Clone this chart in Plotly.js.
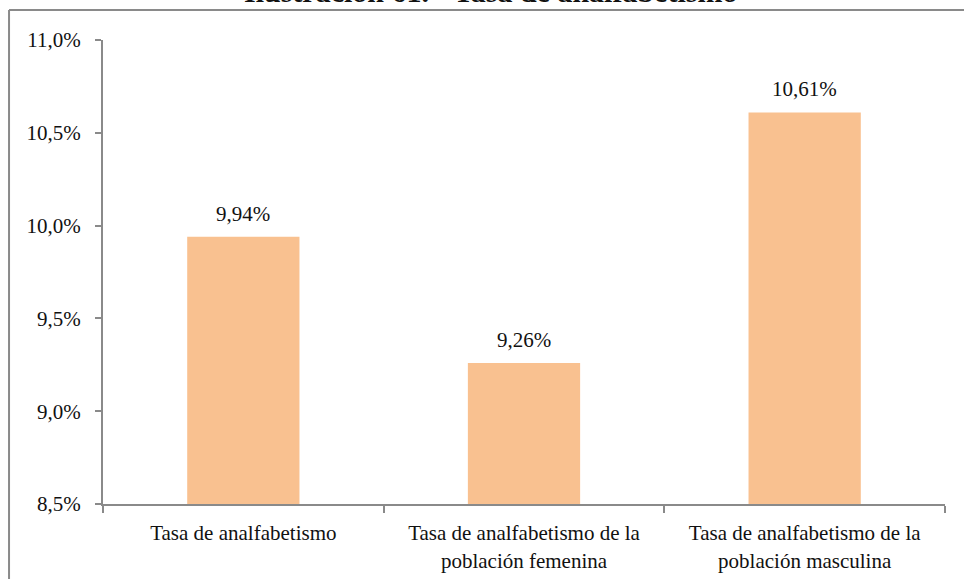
<!DOCTYPE html>
<html>
<head>
<meta charset="utf-8">
<script src="https://cdn.plot.ly/plotly-3.0.1.min.js"></script>
<style>html,body{margin:0;padding:0;background:#fff;}</style>
</head>
<body>
<div id="chart" style="width:964px;height:579px;"></div>
<script>
const chartTitle = "Ilustración 61. - Tasa de analfabetismo";
const categories = [
  "Tasa de analfabetismo",
  "Tasa de analfabetismo de la<br>población femenina",
  "Tasa de analfabetismo de la<br>población masculina"
];
const values = [9.94, 9.26, 10.61];
const yTicks = [8.5, 9.0, 9.5, 10.0, 10.5, 11.0];

const fmt = v => v.toFixed(2).replace('.', ',') + '%';
const FONT = "Liberation Serif, DejaVu Serif, serif";
const GREY = "#8a8a8a";

const trace = {
  type: 'bar',
  x: categories,
  y: values,
  width: 0.4,
  marker: {color: '#F9C190'},
  hoverinfo: 'skip'
};

const annotations = categories.map((c, i) => ({
  x: c, y: values[i], xref: 'x', yref: 'y',
  text: fmt(values[i]), showarrow: false,
  yanchor: 'bottom', yshift: 9,
  font: {family: FONT, size: 21, color: '#111'}
}));
annotations.push({
  xref: 'paper', yref: 'paper', x: 0.46, y: 1.0647, yshift: 0,
  xanchor: 'center', yanchor: 'bottom',
  text: '<b>' + chartTitle + '</b>', showarrow: false,
  font: {family: FONT, size: 30, color: '#111'}
});

const layout = {
  width: 964, height: 579,
  margin: {l: 103, r: 19, t: 40, b: 75},
  paper_bgcolor: '#fff', plot_bgcolor: '#fff',
  separators: ',.',
  showlegend: false,
  font: {family: FONT, size: 20, color: '#111'},
  xaxis: {
    type: 'category',
    showline: true, linecolor: GREY, linewidth: 2,
    ticks: 'outside', tickson: 'boundaries', ticklen: 7, tickcolor: GREY, tickwidth: 2,
    ticklabelstandoff: 9,
    showgrid: false, zeroline: false,
    tickfont: {family: FONT, size: 21, color: '#111'},
    automargin: false
  },
  yaxis: {
    range: [8.5, 11.0],
    tickvals: yTicks,
    ticktext: yTicks.map(v => v.toFixed(1).replace('.', ',') + '%'),
    showline: true, linecolor: GREY, linewidth: 2,
    ticks: 'outside', ticklen: 6, tickcolor: GREY, tickwidth: 2,
    ticklabelstandoff: 10,
    showgrid: false, zeroline: false,
    tickfont: {family: FONT, size: 21, color: '#111'},
    automargin: false
  },
  shapes: [
    {type: 'line', xref: 'paper', yref: 'paper', x0: -0.1116, x1: 1.03, y0: 1.0647, y1: 1.0647,
     line: {color: GREY, width: 2}},
    {type: 'line', xref: 'paper', yref: 'paper', x0: -0.1116, x1: -0.1116, y0: 1.0647, y1: -0.17,
     line: {color: GREY, width: 2}}
  ],
  annotations: annotations
};

Plotly.newPlot('chart', [trace], layout, {displayModeBar: false, staticPlot: true});
</script>
</body>
</html>
